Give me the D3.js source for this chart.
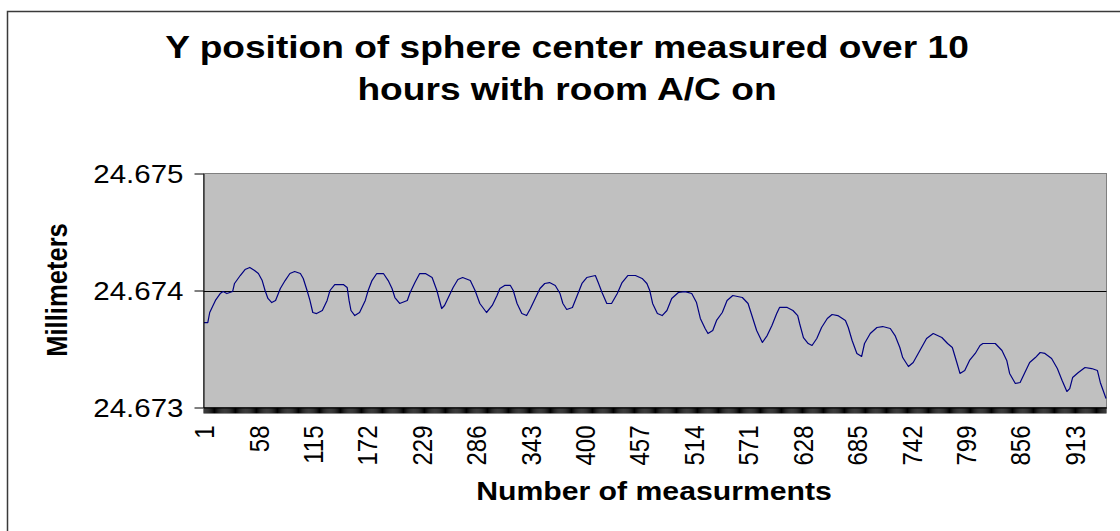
<!DOCTYPE html>
<html>
<head>
<meta charset="utf-8">
<script src="https://cdn.jsdelivr.net/npm/d3@7"></script>
<style>
  body { margin: 0; background: #fff; }
  svg { display: block; font-family: "Liberation Sans", Arial, sans-serif; }
</style>
</head>
<body>
<div id="chart"></div>
<script>
let measure = [1, 5, 7, 13, 18, 21, 25, 31, 33, 39, 44, 49, 54, 58, 62, 65, 68, 72, 76, 81,
  86, 91, 96, 102, 105, 109, 112, 115, 119, 125, 130, 133, 138, 147, 151, 153, 155, 159, 164, 170,
  173, 177, 182, 189, 194, 198, 201, 206, 214, 217, 222, 227, 233, 240, 245, 250, 253, 259, 262, 267,
  272, 280, 285, 290, 297, 303, 308, 311, 316, 322, 325, 329, 334, 339, 343, 348, 353, 358, 363, 369,
  374, 377, 381, 387, 392, 397, 402, 411, 414, 418, 423, 428, 434, 439, 445, 453, 460, 465, 468, 471,
  476, 481, 486, 491, 498, 505, 512, 517, 521, 526, 529, 534, 538, 544, 549, 555, 565, 571, 576, 580,
  586, 591, 596, 601, 604, 612, 618, 623, 625, 629, 634, 638, 643, 648, 654, 659, 665, 673, 676, 680,
  685, 690, 693, 699, 706, 712, 720, 725, 730, 733, 739, 744, 751, 758, 765, 774, 780, 785, 790, 793,
  798, 803, 809, 814, 817, 830, 837, 842, 845, 851, 856, 861, 866, 872, 877, 882, 889, 895, 900, 905,
  908, 911, 917, 924, 931, 937, 940, 943, 946]

// Y position in mm
let yPos = [24.673726, 24.673726, 24.673812, 24.673915, 24.673974, 24.673991, 24.673974, 24.673991, 24.674060, 24.674128,
  24.674179, 24.674197, 24.674171, 24.674145, 24.674085, 24.674000, 24.673932, 24.673897, 24.673915, 24.674017,
  24.674085, 24.674145, 24.674162, 24.674145, 24.674103, 24.674000, 24.673915, 24.673812, 24.673803, 24.673829,
  24.673915, 24.674000, 24.674051, 24.674051, 24.674026, 24.673915, 24.673829, 24.673786, 24.673812, 24.673915,
  24.674000, 24.674085, 24.674145, 24.674145, 24.674085, 24.674017, 24.673940, 24.673889, 24.673915, 24.673983,
  24.674068, 24.674145, 24.674145, 24.674111, 24.674000, 24.673846, 24.673872, 24.673974, 24.674026, 24.674094,
  24.674111, 24.674085, 24.674000, 24.673889, 24.673812, 24.673872, 24.673957, 24.674017, 24.674043, 24.674043,
  24.674000, 24.673889, 24.673803, 24.673786, 24.673846, 24.673932, 24.674017, 24.674060, 24.674068, 24.674043,
  24.673974, 24.673889, 24.673838, 24.673855, 24.673957, 24.674060, 24.674111, 24.674128, 24.674068, 24.673983,
  24.673889, 24.673889, 24.673974, 24.674068, 24.674128, 24.674128, 24.674103, 24.674060, 24.674000, 24.673889,
  24.673803, 24.673786, 24.673829, 24.673932, 24.673983, 24.673991, 24.673974, 24.673897, 24.673761, 24.673675,
  24.673632, 24.673658, 24.673744, 24.673812, 24.673915, 24.673957, 24.673940, 24.673889, 24.673761, 24.673658,
  24.673556, 24.673615, 24.673701, 24.673803, 24.673855, 24.673855, 24.673829, 24.673786, 24.673718, 24.673598,
  24.673547, 24.673530, 24.673590, 24.673684, 24.673761, 24.673795, 24.673786, 24.673744, 24.673684, 24.673573,
  24.673462, 24.673436, 24.673547, 24.673632, 24.673684, 24.673692, 24.673675, 24.673615, 24.673513, 24.673427,
  24.673350, 24.673385, 24.673487, 24.673590, 24.673632, 24.673598, 24.673547, 24.673513, 24.673376, 24.673291,
  24.673316, 24.673402, 24.673462, 24.673530, 24.673547, 24.673547, 24.673487, 24.673402, 24.673291, 24.673205,
  24.673214, 24.673299, 24.673385, 24.673427, 24.673470, 24.673462, 24.673419, 24.673333, 24.673231, 24.673137,
  24.673162, 24.673256, 24.673299, 24.673342, 24.673333, 24.673316, 24.673214, 24.673145, 24.673077]

let nMeasures = 946
let categories = d3.range(1, nMeasures + 1)
let xTickLabels = [1, 58, 115, 172, 229, 286, 343, 400, 457, 514, 571, 628, 685, 742, 799, 856, 913]
let yTicks = [24.673, 24.674, 24.675]

let titleLines = ["Y position of sphere center measured over 10", "hours with room A/C on"]

let data = measure.map((m, i) => ({m: m, v: yPos[i]}))

// the original picture is stretched sideways a bit, so text gets a x-scale too
var sx = 1.18

var width = 1120, height = 531
var plot = {left: 203.5, right: 1106.5, top: 173.5, bottom: 407.5}

var svg = d3.select("#chart")
  .append("svg")
  .attr("width", width)
  .attr("height", height)

// outer chart frame
svg.append("rect")
  .attr("x", 7.5)
  .attr("y", 11.5)
  .attr("width", width + 20)
  .attr("height", height + 20)
  .attr("fill", "#fff")
  .attr("stroke", "#3a3a3a")
  .attr("stroke-width", 1.5)

var x = d3.scaleBand()
  .domain(categories)
  .range([plot.left, plot.right])
  .padding(0)

var y = d3.scaleLinear()
  .domain([24.673, 24.675])
  .range([plot.bottom, plot.top])

// plot area
svg.append("rect")
  .attr("x", plot.left)
  .attr("y", plot.top)
  .attr("width", plot.right - plot.left)
  .attr("height", plot.bottom - plot.top)
  .attr("fill", "#c0c0c0")
  .attr("stroke", "#808080")
  .attr("stroke-width", 1)

// gridline(s) inside the plot
svg.append("g")
  .selectAll("line")
  .data(yTicks.filter(d => d > y.domain()[0] && d < y.domain()[1]))
  .join("line")
  .attr("x1", plot.left)
  .attr("x2", plot.right)
  .attr("y1", d => Math.round(y(d)) + 0.5)
  .attr("y2", d => Math.round(y(d)) + 0.5)
  .attr("stroke", "#000")
  .attr("stroke-width", 1)

// the series
svg.append("path")
  .attr("d", d3.line()
    .x(d => x(d.m) + x.bandwidth() / 2)
    .y(d => y(d.v))(data))
  .attr("fill", "none")
  .attr("stroke", "#000080")
  .attr("stroke-width", 1.2)
  .attr("stroke-linejoin", "round")

// y axis
var yAxis = svg.append("g")
  .attr("transform", "translate(" + plot.left + ",0)")
  .call(d3.axisLeft(y)
    .tickValues(yTicks)
    .tickSize(9)
    .tickSizeOuter(0)
    .tickFormat(d3.format(".3f")))
yAxis.select(".domain").attr("stroke", "#000")
yAxis.selectAll(".tick line").attr("stroke", "#000")
yAxis.selectAll(".tick text")
  .attr("x", -17)
  .attr("dy", "0.36em")
  .attr("transform", "scale(" + sx + ",1)")
  .attr("font-size", 25)
  .attr("fill", "#000")
  .attr("font-family", "Liberation Sans, Arial, sans-serif")

// x axis: a tick on every measurement, label every 57
var labelSet = new Set(xTickLabels)
var xAxis = svg.append("g")
  .attr("transform", "translate(0," + plot.bottom + ")")
  .call(d3.axisBottom(x)
    .tickValues(categories)
    .tickSize(6)
    .tickSizeOuter(0)
    .tickFormat(d => labelSet.has(d) ? d : ""))
xAxis.select(".domain").attr("stroke", "#000")
xAxis.selectAll(".tick line").attr("stroke", "#000").attr("stroke-width", 1)
xAxis.selectAll(".tick text")
  .filter(d => !labelSet.has(d)).remove()
xAxis.selectAll(".tick text")
  .attr("x", 0)
  .attr("y", 0)
  .attr("dy", "0.36em")
  .attr("text-anchor", "end")
  .attr("transform", "translate(0,18) scale(" + sx + ",1) rotate(-90)")
  .attr("font-size", 24)
  .attr("fill", "#000")
  .attr("font-family", "Liberation Sans, Arial, sans-serif")

// title
svg.append("g")
  .selectAll("text")
  .data(titleLines)
  .join("text")
  .attr("transform", (d, i) => "translate(567," + (58 + i * 42) + ") scale(1.16,1)")
  .attr("text-anchor", "middle")
  .attr("font-weight", "bold")
  .attr("font-size", 32)
  .attr("fill", "#000")
  .text(d => d)

// axis titles
svg.append("text")
  .attr("transform", "translate(654,500) scale(" + sx + ",1)")
  .attr("text-anchor", "middle")
  .attr("font-weight", "bold")
  .attr("font-size", 25.6)
  .attr("fill", "#000")
  .text("Number of measurments")

svg.append("text")
  .attr("transform", "translate(56,290) scale(" + sx + ",1) rotate(-90)")
  .attr("text-anchor", "middle")
  .attr("dy", "0.36em")
  .attr("font-weight", "bold")
  .attr("font-size", 25.6)
  .attr("fill", "#000")
  .text("Millimeters")
</script>
</body>
</html>
